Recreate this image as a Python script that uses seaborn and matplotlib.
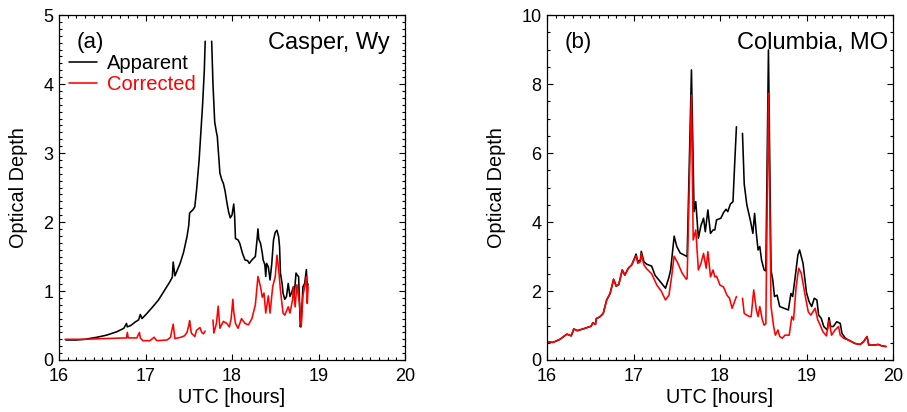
import numpy as np
import pandas as pd
import seaborn as sns
import matplotlib.pyplot as plt
from matplotlib.ticker import MultipleLocator

sns.set_style("ticks")
plt.rcParams['font.family'] = ['Liberation Sans', 'DejaVu Sans']
plt.rcParams['text.color'] = 'black'
plt.rcParams['axes.labelcolor'] = 'black'
plt.rcParams['xtick.color'] = 'black'
plt.rcParams['ytick.color'] = 'black'

# ---- (a) Casper, Wy ----
casper_app_t = [16.08, 16.2, 16.3, 16.44, 16.55, 16.67, 16.75, 16.78, 16.79, 16.83, 16.88, 16.92,
                16.94, 16.96, 17.02, 17.09, 17.15, 17.21, 17.28, 17.31, 17.32, 17.34, 17.40, 17.44,
                17.48, 17.50, 17.51, 17.55, 17.57, 17.59, 17.62, 17.64, 17.66, 17.68, 17.69, 17.73,
                17.765, 17.78, 17.80, 17.82, 17.83, 17.86, 17.88, 17.90, 17.92, 17.94, 17.96, 17.98,
                18.00, 18.02, 18.03, 18.04, 18.07, 18.09, 18.12, 18.15, 18.18, 18.20, 18.23, 18.27,
                18.29, 18.30, 18.31, 18.33, 18.35, 18.36, 18.38, 18.39, 18.40, 18.42, 18.44, 18.46,
                18.48, 18.50, 18.52, 18.54, 18.55, 18.56, 18.58, 18.59, 18.61, 18.63, 18.65, 18.67,
                18.69, 18.71, 18.72, 18.74, 18.76, 18.77, 18.79, 18.80, 18.82, 18.84, 18.86, 18.87, 18.88]
casper_app_v = [0.29, 0.29, 0.30, 0.33, 0.36, 0.41, 0.46, 0.53, 0.48, 0.50, 0.55, 0.58,
                0.66, 0.60, 0.68, 0.78, 0.87, 0.99, 1.13, 1.20, 1.42, 1.22, 1.40, 1.56,
                1.79, 1.95, 2.13, 2.18, 2.22, 2.46, 2.90, 3.30, 3.70, 4.20, 4.62, np.nan,
                4.62, 4.00, 3.45, 3.30, 3.24, 2.71, 2.62, 2.56, 2.45, 2.29, 2.15, 2.06,
                2.10, 2.26, 2.10, 1.76, 1.74, 1.69, 1.55, 1.45, 1.44, 1.40, 1.45, 1.50,
                1.75, 1.90, 1.75, 1.69, 1.55, 1.45, 1.38, 1.21, 1.40, 1.35, 1.16, 1.40,
                1.74, 1.85, 1.88, 1.78, 1.64, 1.26, 1.10, 0.97, 0.88, 0.92, 1.11, 0.92,
                0.98, 1.06, 0.95, 1.26, 1.22, 1.21, 0.48, 0.55, 1.06, 1.11, 1.31, 1.06, 1.10]

casper_cor_t = [16.07, 16.3, 16.5, 16.78, 16.79, 16.80, 16.90, 16.93, 16.94, 16.97, 17.05, 17.10,
                17.13, 17.25, 17.29, 17.30, 17.32, 17.34, 17.41, 17.45, 17.48, 17.50, 17.51, 17.53,
                17.57, 17.59, 17.63, 17.65, 17.67, 17.69, 17.74, 17.78, 17.79, 17.82, 17.84, 17.86,
                17.90, 17.94, 17.97, 17.99, 18.01, 18.02, 18.04, 18.07, 18.11, 18.15, 18.19, 18.23,
                18.27, 18.30, 18.33, 18.35, 18.37, 18.39, 18.42, 18.44, 18.47, 18.50, 18.52, 18.54,
                18.56, 18.59, 18.61, 18.65, 18.67, 18.70, 18.71, 18.73, 18.75, 18.78, 18.80, 18.82,
                18.84, 18.86, 18.87, 18.88]
casper_cor_v = [0.30, 0.30, 0.31, 0.32, 0.40, 0.32, 0.32, 0.40, 0.32, 0.28, 0.28, 0.33,
                0.28, 0.29, 0.33, 0.40, 0.52, 0.31, 0.33, 0.35, 0.40, 0.50, 0.57, 0.39,
                0.34, 0.43, 0.47, 0.40, 0.38, 0.42, np.nan, 0.58, 0.39, 0.53, 0.78, 0.46,
                0.56, 0.53, 0.48, 0.60, 0.88, 0.70, 0.53, 0.46, 0.60, 0.53, 0.51, 0.60,
                0.80, 1.21, 1.06, 0.91, 0.97, 0.68, 0.93, 0.68, 1.06, 1.21, 1.52, 1.31,
                1.01, 0.68, 0.65, 0.77, 0.68, 0.87, 1.06, 0.77, 1.09, 0.82, 0.48, 0.93,
                1.06, 1.21, 0.82, 1.06]

# ---- (b) Columbia, MO ----
early_t = [16.00, 16.07, 16.15, 16.23, 16.28, 16.31, 16.35, 16.44, 16.51, 16.53, 16.56, 16.57,
           16.61, 16.65, 16.69, 16.73, 16.77, 16.80, 16.83, 16.87, 16.90, 16.94, 16.98]
early_v = [0.53, 0.51, 0.60, 0.75, 0.70, 0.90, 0.85, 0.92, 0.98, 1.08, 1.03, 1.20,
           1.25, 1.35, 1.74, 1.93, 2.34, 2.14, 2.19, 2.61, 2.46, 2.66, 2.76]
late_t = [19.45, 19.50, 19.56, 19.62, 19.66, 19.70, 19.72, 19.77, 19.83, 19.87, 19.92]
late_v = [0.63, 0.56, 0.48, 0.45, 0.53, 0.68, 0.43, 0.43, 0.45, 0.41, 0.39]

columbia_app_t = early_t + [
    17.03, 17.05, 17.08, 17.09, 17.12, 17.15, 17.21, 17.25, 17.30, 17.37, 17.41, 17.43,
    17.47, 17.50, 17.54, 17.58, 17.61, 17.62, 17.67, 17.70, 17.72, 17.75, 17.78, 17.81,
    17.83, 17.86, 17.89, 17.92, 17.94, 17.96, 18.01, 18.04, 18.07, 18.09, 18.12, 18.15,
    18.17, 18.19, 18.22, 18.26, 18.28, 18.31, 18.35, 18.38, 18.40, 18.42, 18.44, 18.46,
    18.48, 18.51, 18.53, 18.56, 18.59, 18.61, 18.63, 18.66, 18.69, 18.74, 18.79, 18.82,
    18.84, 18.87, 18.90, 18.92, 18.96, 19.00, 19.03, 19.06, 19.09, 19.12, 19.14, 19.17,
    19.20, 19.24, 19.26, 19.28, 19.31, 19.35, 19.39, 19.41] + late_t
columbia_app_v = early_v + [
    3.07, 2.85, 2.90, 3.15, 2.85, 2.78, 2.72, 2.45, 2.30, 2.08, 2.40, 2.62,
    3.59, 3.29, 3.10, 3.05, 3.01, 2.99, 8.41, 4.30, 4.59, 3.53, 3.90, 4.11,
    3.72, 4.35, 3.67, 3.77, 3.77, 4.06, 4.11, 4.27, 4.37, 4.30, 4.52, 4.59,
    5.70, 6.76, np.nan, 6.57, 5.10, 4.50, 4.06, 3.67, 4.25, 3.67, 3.19, 3.29,
    2.90, 2.61, 2.58, 8.99, 2.60, 2.32, 1.84, 1.88, 1.55, 1.50, 1.45, 1.93,
    1.84, 2.42, 3.04, 3.19, 2.80, 1.95, 1.69, 1.55, 1.79, 1.74, 1.30, 1.21,
    0.97, 0.87, 1.23, 0.97, 0.97, 1.11, 1.06, 0.77] + late_v

columbia_cor_t = early_t + [
    17.03, 17.05, 17.08, 17.09, 17.12, 17.15, 17.21, 17.27, 17.32, 17.37, 17.41, 17.44,
    17.47, 17.51, 17.56, 17.61, 17.62, 17.67, 17.69, 17.72, 17.75, 17.78, 17.81, 17.84,
    17.86, 17.89, 17.92, 17.94, 17.96, 18.00, 18.04, 18.08, 18.11, 18.14, 18.19, 18.22,
    18.26, 18.28, 18.31, 18.34, 18.36, 18.39, 18.42, 18.44, 18.46, 18.49, 18.51, 18.53,
    18.56, 18.59, 18.62, 18.64, 18.67, 18.69, 18.72, 18.75, 18.80, 18.83, 18.85, 18.88,
    18.91, 18.94, 18.98, 19.02, 19.05, 19.10, 19.13, 19.15, 19.19, 19.23, 19.26, 19.29,
    19.33, 19.37, 19.39, 19.43] + late_t[1:]
columbia_cor_v = early_v + [
    3.02, 2.80, 2.85, 3.09, 2.76, 2.65, 2.50, 2.17, 2.00, 1.74, 1.88, 2.40,
    3.01, 2.82, 2.53, 2.34, 2.37, 7.68, 3.48, 3.77, 2.61, 2.80, 3.09, 2.66,
    3.14, 2.41, 2.61, 2.41, 2.43, 2.17, 2.12, 1.88, 1.79, 1.50, 1.84, np.nan,
    1.79, 1.35, 1.30, 1.26, 1.26, 2.03, 1.45, 1.26, 1.55, 1.16, 1.01, 1.05,
    7.73, 1.55, 0.97, 0.72, 0.87, 0.68, 0.63, 0.72, 0.72, 1.26, 1.16, 2.12,
    2.66, 2.51, 1.93, 1.40, 1.30, 1.50, 1.16, 1.06, 0.82, 0.70, 1.14, 0.72,
    0.87, 0.97, 0.72, 0.63] + late_v[1:]


def to_frame(t, v, name):
    d = pd.DataFrame({'time': t, 'depth': v})
    d['series'] = name
    d['seg'] = d['depth'].isna().cumsum()  # break line at gaps
    return d.dropna()


panels = [
    dict(app=(casper_app_t, casper_app_v), cor=(casper_cor_t, casper_cor_v),
         ymax=5, ymaj=1, ymin=0.1, tag='(a)', site='Casper, Wy', legend=True),
    dict(app=(columbia_app_t, columbia_app_v), cor=(columbia_cor_t, columbia_cor_v),
         ymax=10, ymaj=2, ymin=0.5, tag='(b)', site='Columbia, MO', legend=False),
]

fig = plt.figure(figsize=(9.07, 4.12), dpi=100)
lefts = [59 / 907, 547 / 907]

for p, left in zip(panels, lefts):
    ax = fig.add_axes([left, 52 / 412, 346 / 907, 345 / 412])
    df = pd.concat([to_frame(*p['app'], 'Apparent'), to_frame(*p['cor'], 'Corrected')])
    sns.lineplot(data=df, x='time', y='depth', hue='series', units='seg', estimator=None,
                 palette={'Apparent': 'black', 'Corrected': 'red'}, linewidth=1.15,
                 sort=False, ax=ax)
    ax.set_xlim(16, 20)
    ax.set_ylim(0, p['ymax'])
    ax.xaxis.set_major_locator(MultipleLocator(1))
    ax.xaxis.set_minor_locator(MultipleLocator(0.1))
    ax.yaxis.set_major_locator(MultipleLocator(p['ymaj']))
    ax.yaxis.set_minor_locator(MultipleLocator(p['ymin']))
    ax.tick_params(which='both', direction='in', top=True, right=True, width=0.8,
                   labelsize=13, color='black', labelcolor='black')
    ax.tick_params(which='major', length=4.5)
    ax.tick_params(which='minor', length=2.3)
    ax.tick_params(axis='x', pad=5.8)
    ax.tick_params(axis='y', pad=4)
    for s in ax.spines.values():
        s.set_linewidth(0.9)
        s.set_color('black')
    ax.set_xlabel('UTC [hours]', fontsize=14.3)
    ax.set_ylabel('Optical Depth', fontsize=14.3, labelpad=11)
    ax.xaxis.set_label_coords(0.5, -0.081)

    ax.text(0.052, 0.919, p['tag'], transform=ax.transAxes, fontsize=16,
            ha='left', va='center')
    ax.text(0.957 if p['legend'] else 0.986, 0.919, p['site'], transform=ax.transAxes,
            fontsize=17, ha='right', va='center')

    leg = ax.get_legend()
    handles = leg.legend_handles
    labels = [t.get_text() for t in leg.get_texts()]
    leg.remove()
    if p['legend']:
        ax.legend(handles, labels, loc='upper left', bbox_to_anchor=(0.029, 0.888),
                  frameon=False, fontsize=14.5, handlelength=1.4, handletextpad=0.5,
                  labelspacing=0.1, borderpad=0, borderaxespad=0, labelcolor='linecolor')

fig.savefig('out.png', dpi=100, facecolor='white')
